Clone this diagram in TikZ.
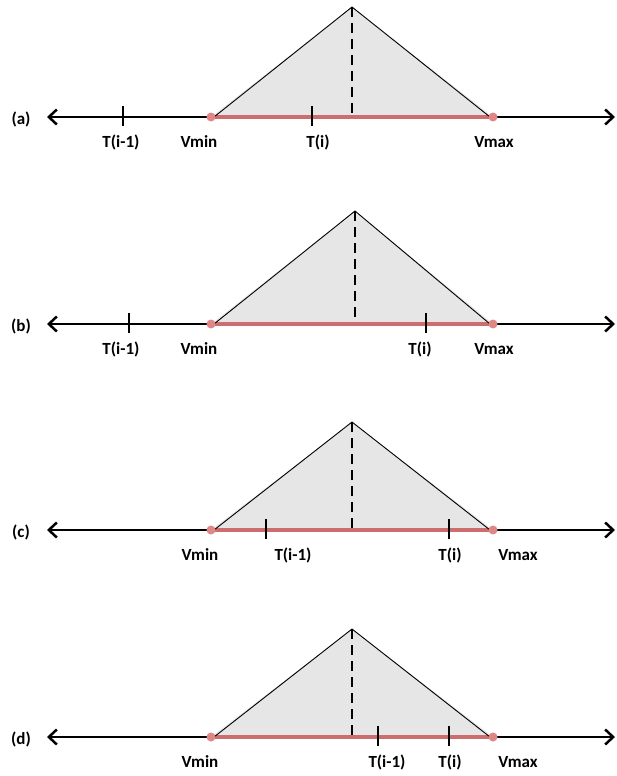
\documentclass[tikz,border=0pt]{standalone}
\usepackage{fontspec}
\setmainfont{Carlito}
\usetikzlibrary{arrows.meta}
\definecolor{redline}{HTML}{CD6E6E}
\definecolor{reddot}{HTML}{E08686}
\definecolor{trigray}{HTML}{E6E6E6}
\tikzset{
  axisline/.style={line width=2.5pt, {Straight Barb[length=8pt,width=15pt]}-{Straight Barb[length=8pt,width=15pt]}},
  rangeline/.style={line width=3.4pt, draw=redline},
  triedge/.style={line width=0.9pt, draw=black},
  trifill/.style={fill=trigray},
  peakline/.style={line width=2.4pt, dash pattern=on 10pt off 6pt},
  tickmark/.style={line width=2.2pt},
  enddot/.style={circle, fill=reddot, inner sep=0pt, minimum size=9pt},
  lbl/.style={font=\fontsize{17}{20}\selectfont\bfseries, inner sep=0pt},
}
\newcommand{\mypanel}[9]{%
  % #1 name, #2 axis y, #3 apex x, #4 apex y, #5 tick1 x, #6 tick2 x, #7 Vmin label x, #8 Vmax label x, #9 label letter
  \coordinate (#1-L) at (47,#2);
  \coordinate (#1-R) at (615,#2);
  \coordinate (#1-top) at (#3,#4);
  \coordinate (#1-foot) at (#3,#2);
  \coordinate (#1-a) at (211,#2);
  \coordinate (#1-b) at (493,#2);
  \fill[trifill] (#1-a) -- (#1-top) -- (#1-b) -- cycle;
  \draw[axisline] (#1-L) -- (#1-R);
  \draw[rangeline] (#1-a) -- (#1-b);
  \draw[triedge] ([xshift=3pt]#1-a) -- (#1-top) -- ([xshift=-3pt]#1-b);
  \draw[peakline] (#1-top) -- ([yshift=2pt]#1-foot);
  \node[enddot] (#1-vmin) at (#1-a) {};
  \node[enddot] (#1-vmax) at (#1-b) {};
  \node[lbl] (#1-name) at (21,\numexpr#2+2\relax) {(#9)};
  \node[lbl] (#1-lvmin) at (#7,\numexpr#2+25\relax) {Vmin};
  \node[lbl] (#1-lvmax) at (#8,\numexpr#2+25\relax) {Vmax};
}
\newcommand{\myticks}[5]{%
  % #1 name, #2 axis y, #3 t1 x, #4 t2 x, #5 t1 label x
  \coordinate (#1-t1) at (#3,#2);
  \coordinate (#1-t2) at (#4,#2);
  \draw[tickmark] ([yshift=11pt]#1-t1) -- ([yshift=-9pt]#1-t1);
  \draw[tickmark] ([yshift=11pt]#1-t2) -- ([yshift=-9pt]#1-t2);
  \node[lbl] (#1-lt1) at (#5,\numexpr#2+25\relax) {T(i-1)};
}
\begin{document}
\begin{tikzpicture}[x=1pt,y=-1pt]
\useasboundingbox (0,0) rectangle (617,776);
% panel (a)
\mypanel{pa}{117}{352}{7}{123}{312}{199}{494}{a}
\myticks{pa}{117}{123}{312}{121}
\node[lbl] (pa-lt2) at (318,142) {T(i)};
% panel (b)
\mypanel{pb}{324}{355}{211}{129}{426}{199}{494}{b}
\myticks{pb}{324}{129}{426}{121}
\node[lbl] (pb-lt2) at (420,349) {T(i)};
% panel (c)
\mypanel{pc}{530}{352}{422}{266}{449}{200}{518}{c}
\myticks{pc}{530}{266}{449}{293}
\node[lbl] (pc-lt2) at (450,555) {T(i)};
% panel (d)
\mypanel{pd}{737}{352}{629}{378}{449}{200}{518}{d}
\myticks{pd}{737}{378}{449}{387}
\node[lbl] (pd-lt2) at (450,762) {T(i)};
\end{tikzpicture}
\end{document}
